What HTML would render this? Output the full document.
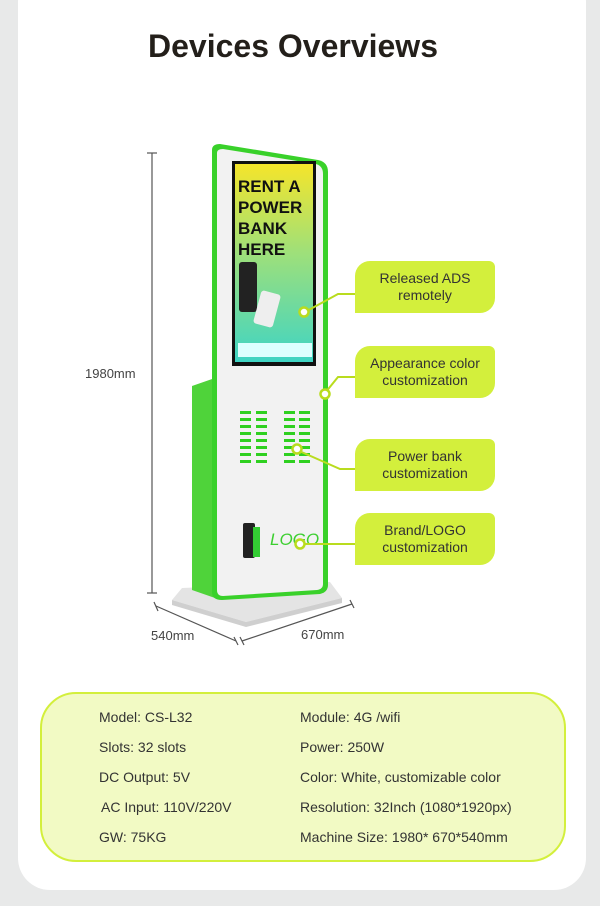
<!DOCTYPE html>
<html><head><meta charset="utf-8"><style>
body{margin:0;width:600px;height:906px;background:#e8e9e9;position:relative;overflow:hidden;font-family:"Liberation Sans",sans-serif}
.card{position:absolute;left:18px;top:-30px;width:568px;height:920px;background:#fff;border-radius:32px}
h1{position:absolute;left:0;width:586px;top:28px;margin:0;text-align:center;font-size:32px;font-weight:bold;color:#231f1a}
.co{position:absolute;left:355px;width:140px;height:52px;background:#d3ef3c;border-radius:15px 6px 15px 0;display:flex;align-items:center;justify-content:center;text-align:center;font-size:14px;line-height:17px;color:#333}
.spec{position:absolute;left:40px;top:692px;width:522px;height:166px;border:2px solid #d3ef3c;border-radius:36px;background:#f2fac4}
.spec div{position:absolute;font-size:14px;color:#333;white-space:nowrap}
.dim{position:absolute;font-size:13px;color:#444}
</style></head><body>
<div class="card"></div>
<h1>Devices Overviews</h1>
<svg width="600" height="906" style="position:absolute;left:0;top:0">
<g stroke="#555" stroke-width="1.2" fill="none">
<line x1="152" y1="153" x2="152" y2="593"/><line x1="147" y1="153" x2="157" y2="153"/><line x1="147" y1="593" x2="157" y2="593"/>
<line x1="156" y1="606" x2="236" y2="641"/><line x1="154" y1="602" x2="158" y2="611"/><line x1="234" y1="637" x2="238" y2="645"/>
<line x1="242" y1="641" x2="352" y2="604"/><line x1="240" y1="637" x2="244" y2="645"/><line x1="350" y1="600" x2="354" y2="608"/>
</g>
<!-- base -->
<polygon points="182,588 330,582 342,598 246,622 172,600" fill="#e4e4e4"/>
<polygon points="172,600 246,622 342,598 342,603 246,627 172,605" fill="#cfcfcf"/>
<!-- back panel -->
<polygon points="192,386 215,378 215,598 192,590" fill="#4fd33a"/>
<!-- body -->
<path d="M212,150 Q212,144 220,144 L318,160 Q328,162 328,172 L328,585 Q328,592 320,594 L222,600 Q212,600 212,592 Z" fill="#39d12a"/>
<path d="M217,153 Q217,149 223,149 L316,164 Q323,166 323,174 L323,584 Q323,589 317,590 L223,596 Q217,596 217,590 Z" fill="#f2f2f2"/>
<!-- screen -->
<defs><linearGradient id="g" x1="0" y1="0" x2="0" y2="1"><stop offset="0" stop-color="#f5e52a"/><stop offset="0.45" stop-color="#9ee07a"/><stop offset="1" stop-color="#3fd4c4"/></linearGradient></defs>
<rect x="232" y="161" width="84" height="205" fill="#111"/>
<rect x="235" y="164" width="78" height="198" fill="url(#g)"/>
<text x="238" y="192" font-size="17" font-weight="bold" fill="#111" font-family="Liberation Sans">RENT A</text>
<text x="238" y="213" font-size="17" font-weight="bold" fill="#111" font-family="Liberation Sans">POWER</text>
<text x="238" y="234" font-size="17" font-weight="bold" fill="#111" font-family="Liberation Sans">BANK</text>
<text x="238" y="255" font-size="17" font-weight="bold" fill="#111" font-family="Liberation Sans">HERE</text>
<rect x="239" y="262" width="18" height="50" rx="3" fill="#222"/>
<rect x="257" y="292" width="20" height="34" rx="3" fill="#eee" transform="rotate(15 267 309)"/>
<rect x="238" y="343" width="74" height="14" fill="#dff"/>
<!-- slots -->
<g fill="#2fd020">
<rect x="240" y="411" width="11" height="3"/><rect x="256" y="411" width="11" height="3"/><rect x="284" y="411" width="11" height="3"/><rect x="299" y="411" width="11" height="3"/>
<rect x="240" y="418" width="11" height="3"/><rect x="256" y="418" width="11" height="3"/><rect x="284" y="418" width="11" height="3"/><rect x="299" y="418" width="11" height="3"/>
<rect x="240" y="425" width="11" height="3"/><rect x="256" y="425" width="11" height="3"/><rect x="284" y="425" width="11" height="3"/><rect x="299" y="425" width="11" height="3"/>
<rect x="240" y="432" width="11" height="3"/><rect x="256" y="432" width="11" height="3"/><rect x="284" y="432" width="11" height="3"/><rect x="299" y="432" width="11" height="3"/>
<rect x="240" y="439" width="11" height="3"/><rect x="256" y="439" width="11" height="3"/><rect x="284" y="439" width="11" height="3"/><rect x="299" y="439" width="11" height="3"/>
<rect x="240" y="446" width="11" height="3"/><rect x="256" y="446" width="11" height="3"/><rect x="284" y="446" width="11" height="3"/><rect x="299" y="446" width="11" height="3"/>
<rect x="240" y="453" width="11" height="3"/><rect x="256" y="453" width="11" height="3"/><rect x="284" y="453" width="11" height="3"/><rect x="299" y="453" width="11" height="3"/>
<rect x="240" y="460" width="11" height="3"/><rect x="256" y="460" width="11" height="3"/><rect x="284" y="460" width="11" height="3"/><rect x="299" y="460" width="11" height="3"/>
</g>
<rect x="243" y="523" width="12" height="35" rx="2" fill="#222"/><rect x="253" y="527" width="7" height="30" fill="#3c3"/>
<text x="270" y="545" font-size="17" font-style="italic" fill="#3ccf30" font-family="Liberation Sans">LOGO</text>
<!-- connectors -->
<g stroke="#b9dc1e" stroke-width="2" fill="none">
<polyline points="305,312 338,294 356,294"/>
<polyline points="325,393 338,377 356,377"/>
<polyline points="297,450 340,469 356,469"/>
<polyline points="300,544 356,544"/>
</g>
<g stroke="#b9dc1e" stroke-width="2.5" fill="#fff">
<circle cx="304" cy="312" r="4.5"/><circle cx="325" cy="394" r="4.5"/><circle cx="297" cy="449" r="4.5"/><circle cx="300" cy="544" r="4.5"/>
</g>
</svg>
<div class="dim" style="left:85px;top:366px">1980mm</div>
<div class="dim" style="left:151px;top:628px">540mm</div>
<div class="dim" style="left:301px;top:627px">670mm</div>
<div class="co" style="top:261px">Released ADS<br>remotely</div>
<div class="co" style="top:346px">Appearance color<br>customization</div>
<div class="co" style="top:439px">Power bank<br>customization</div>
<div class="co" style="top:513px">Brand/LOGO<br>customization</div>
<div class="spec">
<div style="left:57px;top:15px">Model: CS-L32</div>
<div style="left:57px;top:45px">Slots: 32 slots</div>
<div style="left:57px;top:75px">DC Output: 5V</div>
<div style="left:59px;top:105px">AC Input: 110V/220V</div>
<div style="left:57px;top:135px">GW: 75KG</div>
<div style="left:258px;top:15px">Module: 4G /wifi</div>
<div style="left:258px;top:45px">Power: 250W</div>
<div style="left:258px;top:75px">Color: White, customizable color</div>
<div style="left:258px;top:105px">Resolution: 32Inch (1080*1920px)</div>
<div style="left:258px;top:135px">Machine Size: 1980* 670*540mm</div>
</div>
</body></html>
